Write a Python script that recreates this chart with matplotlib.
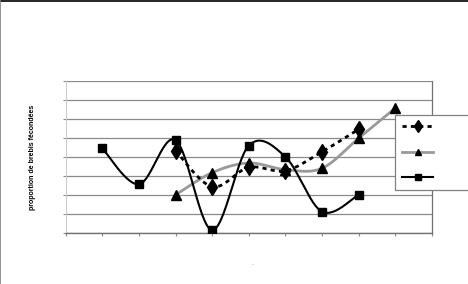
import numpy as np
import matplotlib
matplotlib.use('Agg')
import matplotlib.pyplot as plt
from matplotlib.lines import Line2D

# values (category index, proportion)
x_diamond = [3, 4, 5, 6, 7, 8]
y_diamond = [0.435, 0.245, 0.347, 0.329, 0.429, 0.547]

x_triangle = [3, 4, 5, 6, 7, 8, 9]
y_triangle = [0.202, 0.319, 0.370, 0.335, 0.342, 0.500, 0.658]

x_square = [1, 2, 3, 4, 5, 6, 7, 8]
y_square = [0.447, 0.258, 0.491, 0.017, 0.461, 0.403, 0.114, 0.202]

y_label = 'proportion de brebis fécondées'


def smooth(xs, ys, n=30):
    # excel style smoothed line (bezier, control points at +-1/6 of neighbours)
    p = np.column_stack([xs, ys]).astype(float)
    pts = np.vstack([p[0], p, p[-1]])
    out = []
    t = np.linspace(0, 1, n)[:, None]
    for i in range(1, len(pts) - 2):
        p0, p1, p2, p3 = pts[i - 1], pts[i], pts[i + 1], pts[i + 2]
        c1 = p1 + (p2 - p0) / 6
        c2 = p2 - (p3 - p1) / 6
        seg = ((1 - t) ** 3) * p1 + 3 * ((1 - t) ** 2) * t * c1 + 3 * (1 - t) * t ** 2 * c2 + t ** 3 * p2
        out.append(seg if i == 1 else seg[1:])
    out = np.vstack(out)
    return out[:, 0], out[:, 1]


fig = plt.figure(figsize=(4.68, 2.84), dpi=100)
ax = fig.add_axes([65.7 / 468, 1 - 233.3 / 284, 366 / 468, 152 / 284])

grid_col = '#8a8a8a'
ax.set_xlim(0, 10)
ax.set_ylim(0, 0.8)
ax.set_yticks(np.arange(0, 0.81, 0.1))
ax.set_xticks(np.arange(0, 11, 1))
ax.yaxis.grid(True, color=grid_col, linewidth=0.9)
ax.set_axisbelow(True)
ax.tick_params(axis='both', labelleft=False, labelbottom=False, color=grid_col,
               length=2.2, width=0.8, direction='out')
ax.spines['top'].set_visible(False)
ax.spines['left'].set_color('#cccccc')
ax.spines['left'].set_linewidth(0.8)
ax.spines['right'].set_color('#707070')
ax.spines['right'].set_linewidth(0.9)
ax.spines['bottom'].set_color('#707070')
ax.spines['bottom'].set_linewidth(1.0)

# gray line with triangles
sx, sy = smooth(x_triangle, y_triangle)
ax.plot(sx, sy, color='#999999', linewidth=2.0, solid_capstyle='butt', zorder=3)
ax.plot(x_triangle, y_triangle, linestyle='none', marker='^', markersize=6.5,
        color='black', zorder=4)

# dashed line with diamonds
sx, sy = smooth(x_diamond, y_diamond)
ax.plot(sx, sy, color='black', linewidth=2.0, linestyle=(0, (1.5, 1.5)), zorder=5)
ax.plot(x_diamond, y_diamond, linestyle='none', marker='d', markersize=8.5,
        color='black', zorder=6)

# black line with squares
sx, sy = smooth(x_square, y_square)
ax.plot(sx, sy, color='black', linewidth=1.5, zorder=7)
ax.plot(x_square, y_square, linestyle='none', marker='s', markersize=6.3,
        color='black', zorder=8)

ax.set_ylabel(y_label, fontsize=5, fontweight='bold', family='Liberation Sans')
ax.yaxis.set_label_coords(-29.7 / 366, 0.5)

handles = [
    Line2D([], [], color='black', linewidth=2.0, linestyle=(0, (1.5, 1.5)),
           marker='d', markersize=6.5),
    Line2D([], [], color='#999999', linewidth=2.0, marker='^', markersize=5,
           markerfacecolor='black', markeredgecolor='black'),
    Line2D([], [], color='black', linewidth=1.5, marker='s', markersize=5),
]
leg = fig.legend(handles, [' ', ' ', ' '], loc='upper left',
                 bbox_to_anchor=(395 / 468, 1 - 115 / 284), fontsize=8,
                 handlelength=2.85, handletextpad=2.8, borderpad=0.6,
                 labelspacing=1.42, fancybox=False, framealpha=1,
                 edgecolor='#808080', borderaxespad=0)
leg.get_frame().set_linewidth(0.9)
leg.set_zorder(10)

# small mark under the axis and outer border of the picture
fig.text(253 / 468, 1 - 265 / 284, '-', fontsize=4, color='#999999',
         ha='center', va='center')
fig.add_artist(Line2D([0, 1], [0.998, 0.998], color='black', linewidth=1.2,
                      transform=fig.transFigure))
fig.add_artist(Line2D([0.001, 0.001], [0, 1], color='#808080', linewidth=1.2,
                      transform=fig.transFigure))

fig.savefig('out.png', dpi=100)
